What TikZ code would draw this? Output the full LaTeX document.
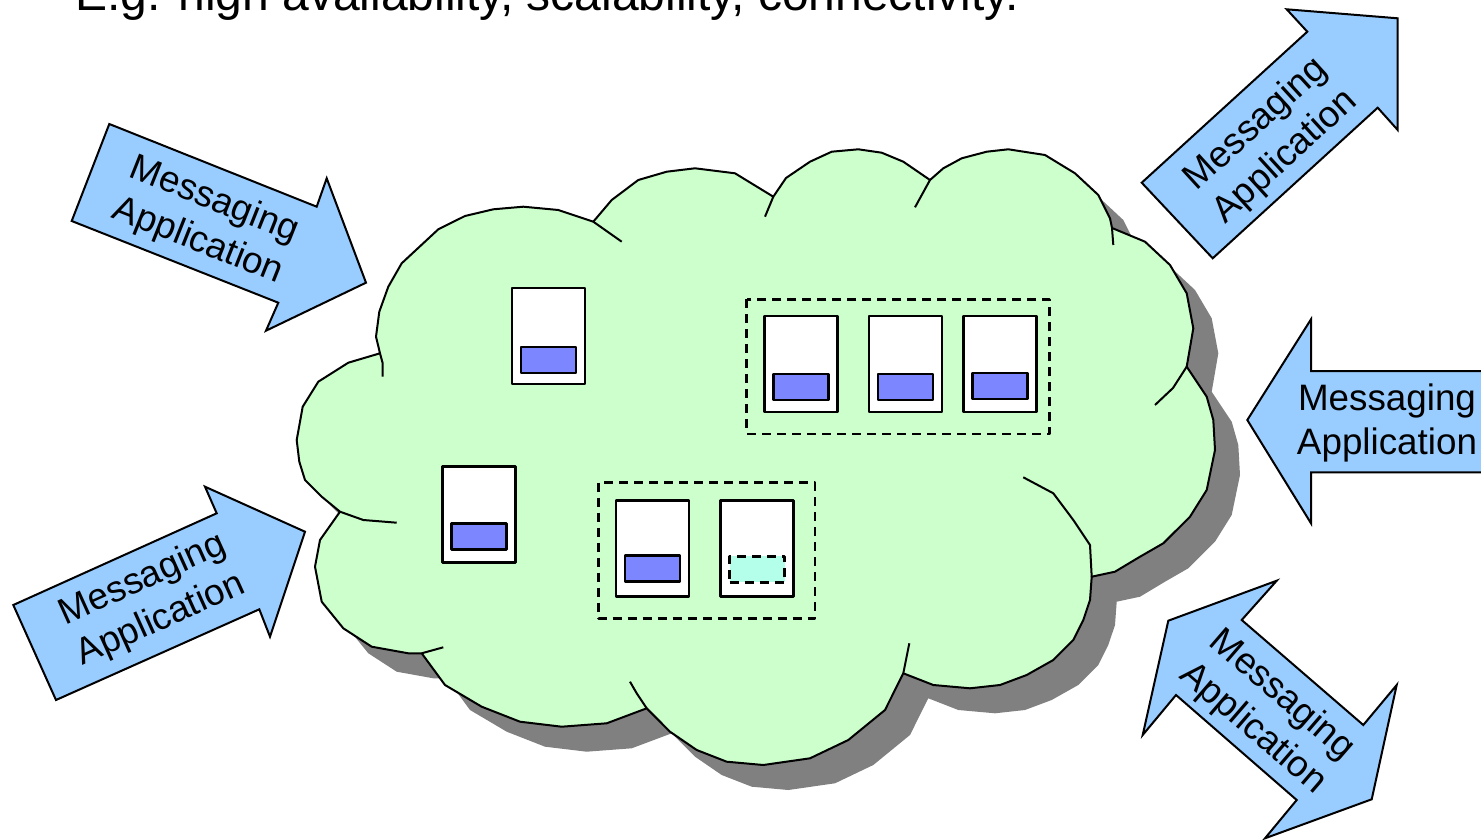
\documentclass[tikz,border=0pt]{standalone}
\usepackage{fontspec}
\setmainfont{Liberation Sans}
\usetikzlibrary{positioning}
\definecolor{cloudgreen}{RGB}{204,255,204}
\definecolor{appblue}{RGB}{153,204,255}
\definecolor{msgblue}{RGB}{123,134,255}
\definecolor{msgcyan}{RGB}{179,255,233}
\definecolor{shadowgray}{RGB}{128,128,128}
\def\cloudoutline{(380,353.3) -- (376,336.7) -- (379.3,311.7) -- (388.3,286.7) -- (401.7,263.3) -- (438.3,229.3) -- (465,216) -- (493.3,209.3) -- (523.3,206.7) -- (558.3,210) -- (593.3,221.7)
  -- (611.7,200) -- (638.3,180) -- (666.7,171.7) -- (695,168.3) -- (735,173.3) -- (773.3,196.7)
  -- (786,178) -- (810,161.7) -- (831.7,151.7) -- (858.3,149.3) -- (881.7,152.7) -- (903.3,161.7) -- (930,180)
  -- (943.3,168.3) -- (961.7,158.3) -- (986.7,151.7) -- (1008.3,149.3) -- (1045,155) -- (1075,173.3) -- (1098.3,195) -- (1110,218.3) -- (1112,228)
  -- (1145,241.7) -- (1170,265) -- (1186.7,293.3) -- (1193.3,328.3) -- (1186.7,366.7)
  -- (1206.7,396.7) -- (1213.3,420) -- (1215,450) -- (1206.7,490) -- (1190,516.7) -- (1163.3,543.3) -- (1140,556.7) -- (1115,571.7) -- (1091.7,576.7)
  -- (1090,600) -- (1083.3,620) -- (1073.3,640) -- (1053.3,660) -- (1026.7,675) -- (1000,685) -- (970,688.3) -- (933.3,685) -- (903.3,673.3)
  -- (885,710) -- (848.3,740) -- (810,758.3) -- (763.3,765) -- (726.7,761.7) -- (696.7,750) -- (670,731.7) -- (646.7,708.3)
  -- (606.7,723.3) -- (561.7,726.7) -- (520,721.7) -- (481.7,706.7) -- (445,685) -- (421.7,653.3)
  -- (408.3,653.3) -- (371.7,646.7) -- (343.3,628.3) -- (321.7,601.7) -- (315,566.7) -- (320,540) -- (340,511.7)
  -- (321.7,496.7) -- (305,480) -- (299.3,461.7) -- (296.7,440) -- (302.7,406.7) -- (318.3,381.7) -- (348.3,362.7) -- cycle}

\begin{document}
\begin{tikzpicture}[x=1pt, y=-1pt, line join=round,
    cloudline/.style={draw=black, line width=2pt},
    appshape/.style={fill=appblue, draw=black, line width=2pt, line join=miter},
    applabel/.style={align=center, inner sep=0pt, font=\fontsize{36.8}{44}\selectfont},
    queue/.style={draw=black, fill=white, line width=2.5pt, minimum width=73pt, minimum height=96pt, inner sep=0pt},
    msg/.style={draw=black, fill=msgblue, line width=2.5pt, minimum width=55pt, minimum height=26pt, inner sep=0pt},
    pending/.style={msg, fill=msgcyan, dash pattern=on 9pt off 6pt},
    qgroup/.style={draw=black, line width=2.5pt, dash pattern=on 9pt off 6pt}]
  \useasboundingbox (0,0) rectangle (1481,840);
  \clip (0,0) rectangle (1481,840);

  \node[anchor=base west, inner sep=0pt, font=\fontsize{48}{56}\selectfont] (title) at (75,11)
    {E.g. high availability, scalability, connectivity.};

  \fill[shadowgray, shift={(25,25)}] \cloudoutline;
  \filldraw[cloudline, fill=cloudgreen] \cloudoutline;
  \draw[cloudline] (380,353.3) -- (382.7,363.3) -- (382.7,376.7)
    (593.3,221.7) -- (621.7,241.7)
    (773.3,196.7) -- (765,216.7)
    (930,180) -- (915,207.3)
    (1112,228) -- (1113.3,245)
    (1186.7,366.7) -- (1173,388) -- (1155,405)
    (1091.7,576.7) -- (1090,545) -- (1073.3,520) -- (1053.3,493.3) -- (1023.3,477.3)
    (903.3,673.3) -- (909.3,643.3)
    (646.7,708.3) -- (636.7,693.3) -- (630,681.7)
    (421.7,653.3) -- (443.3,647.3)
    (340,511.7) -- (363.3,520) -- (396.7,522.7);

  \node[queue] (qa) at (548.3,336) {};
  \node[msg, above=11pt of qa.south] (ma) {};
  \node[queue] (qb) at (478.8,514.3) {};
  \node[msg, above=13pt of qb.south] (mb) {};

  \draw[qgroup] (746.7,299.3) rectangle (1049.3,434);
  \node[queue] (qc1) at (801,364.2) {};
  \node[msg, above=12pt of qc1.south] (mc1) {};
  \node[queue, right=29pt of qc1] (qc2) {};
  \node[msg, above=12pt of qc2.south] (mc2) {};
  \node[queue, right=19pt of qc2] (qc3) {};
  \node[msg, above=13pt of qc3.south] (mc3) {};

  \draw[qgroup] (598.3,482.7) rectangle (815,618.3);
  \node[queue] (qd1) at (652.5,548.3) {};
  \node[msg, above=15pt of qd1.south] (md1) {};
  \node[queue, right=29pt of qd1] (qd2) {};
  \node[pending, above=14pt of qd2.south] (md2) {};

  \draw[appshape] (109.3,124) -- (316.7,206.7) -- (326.7,178.3) -- (366,282.7) -- (266,330.7) -- (278.3,302.7) -- (71.7,221) -- cycle;
  \node[applabel, rotate=-21.7] (app1) at (206,221) {Messaging\\Application};

  \draw[appshape] (13.3,605) -- (216.7,513.3) -- (205,486.7) -- (305,531.7) -- (270,636.7) -- (259.3,609.3) -- (56,700) -- cycle;
  \node[applabel, rotate=24.3] (app2) at (152,600) {Messaging\\Application};

  \draw[appshape] (1141.7,182.7) -- (1307.3,31.7) -- (1286.7,9.3) -- (1397.7,18.3) -- (1397.7,130) -- (1377.7,107.7) -- (1212.7,258.3) -- cycle;
  \node[applabel, rotate=42.4] (app3) at (1271,141) {Messaging\\Application};

  \draw[appshape] (1247.3,420) -- (1311,319.3) -- (1311,371) -- (1500,371) -- (1500,472.3) -- (1311,472.3) -- (1311,523.3) -- cycle;
  \node[applabel] (app4) at (1387,423) {Messaging\\Application};

  \draw[appshape] (1168.3,620.7) -- (1276.7,580.7) -- (1241.7,620) -- (1363.3,725) -- (1396.7,685) -- (1371.7,799.3) -- (1265,838.3) -- (1296.7,800) -- (1176,695) -- (1142.7,735) -- cycle;
  \node[applabel, rotate=-40.8] (app5) at (1267,712) {Messaging\\Application};
\end{tikzpicture}
\end{document}
